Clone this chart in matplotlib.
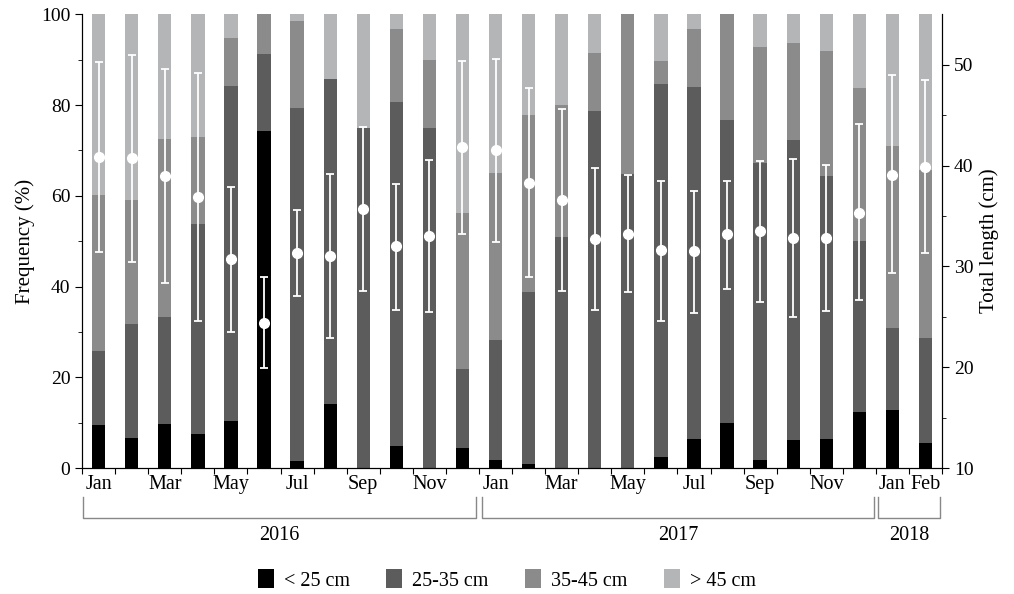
import numpy as np
import matplotlib.pyplot as plt
from matplotlib.patches import Patch
import matplotlib.transforms as mtransforms

plt.rcParams['font.family'] = ['Liberation Serif', 'DejaVu Serif']

months = ['Jan', 'Feb', 'Mar', 'Apr', 'May', 'Jun', 'Jul', 'Aug', 'Sep', 'Oct', 'Nov', 'Dec',
          'Jan', 'Feb', 'Mar', 'Apr', 'May', 'Jun', 'Jul', 'Aug', 'Sep', 'Oct', 'Nov', 'Dec',
          'Jan', 'Feb']
shown = ['Jan', 'Mar', 'May', 'Jul', 'Sep', 'Nov', 'Jan', 'Mar', 'May', 'Jul', 'Sep', 'Nov', 'Jan', 'Feb']
shown_idx = [0, 2, 4, 6, 8, 10, 12, 14, 16, 18, 20, 22, 24, 25]

# cumulative tops (%) of each size class
top_lt25 = [9.5, 6.7, 9.7, 7.6, 10.4, 74.2, 1.5, 14.2, 0, 4.8, 0, 4.5,
            1.8, 1.0, 0, 0, 0, 2.5, 6.4, 9.9, 1.7, 6.2, 6.4, 12.4, 12.8, 5.5]
top_25_35 = [25.9, 31.8, 33.2, 53.8, 84.2, 91.3, 79.4, 85.7, 75.0, 80.6, 75.0, 21.8,
             28.2, 38.7, 50.9, 78.6, 64.7, 84.6, 83.9, 76.7, 67.3, 72.3, 64.4, 50.0, 30.9, 28.6]
top_35_45 = [60.2, 59.1, 72.5, 73.0, 94.7, 100, 98.5, 85.7, 75.0, 96.8, 89.9, 56.2,
             65.1, 77.7, 80.1, 91.5, 100, 89.7, 96.8, 100, 92.7, 93.6, 91.9, 83.7, 70.9, 65.7]

# mean total length (cm) and error bar limits
mean_len = [40.8, 40.7, 39.0, 36.9, 30.7, 24.4, 31.3, 31.0, 35.7, 32.0, 33.0, 41.8,
            41.5, 38.3, 36.6, 32.7, 33.2, 31.6, 31.5, 33.2, 33.5, 32.8, 32.8, 35.3, 39.1, 39.9]
err_hi = [50.3, 51.0, 49.6, 49.2, 37.9, 28.9, 35.6, 39.2, 43.8, 38.2, 40.5, 50.4,
          50.6, 47.7, 45.6, 39.8, 39.1, 38.5, 37.5, 38.5, 40.4, 40.6, 40.1, 44.1, 49.0, 48.5]
err_lo = [31.4, 30.4, 28.4, 24.6, 23.5, 19.9, 27.1, 22.9, 27.6, 25.7, 25.5, 33.2,
          32.4, 28.9, 27.6, 25.7, 27.5, 24.6, 25.4, 27.8, 26.5, 25.0, 25.6, 26.7, 29.3, 31.3]

years = ['2016', '2017', '2018']
classes = ['< 25 cm', '25-35 cm', '35-45 cm', '> 45 cm']
colors = ['#000000', '#5c5c5c', '#8b8b8b', '#b3b5b7']

x = np.arange(len(months))
lt25 = np.array(top_lt25)
c2535 = np.array(top_25_35) - lt25
c3545 = np.array(top_35_45) - np.array(top_25_35)
gt45 = 100 - np.array(top_35_45)

fig = plt.figure(figsize=(10.14, 5.94), dpi=100)
ax = fig.add_axes([0.081, 0.212, 0.848, 0.764])

w = 0.4
ax.bar(x, lt25, w, color=colors[0])
ax.bar(x, c2535, w, bottom=lt25, color=colors[1])
ax.bar(x, c3545, w, bottom=lt25 + c2535, color=colors[2])
ax.bar(x, gt45, w, bottom=lt25 + c2535 + c3545, color=colors[3])

ax.set_xlim(-0.5, 25.5)
ax.set_ylim(0, 100)
ax.set_yticks([0, 20, 40, 60, 80, 100])
ax.set_yticks(np.arange(10, 100, 20), minor=True)
ax.set_xticks(np.arange(-0.5, 26, 1))
ax.set_xticklabels([])
ax.set_xticks(shown_idx, minor=True)
ax.set_xticklabels(shown, minor=True)
ax.tick_params(axis='x', which='major', length=4, direction='out')
ax.tick_params(axis='x', which='minor', length=0, pad=5, labelsize=14.5)
ax.tick_params(axis='y', which='major', length=5, labelsize=14)
ax.tick_params(axis='y', which='minor', length=3)
ax.spines['top'].set_visible(False)
ax.set_ylabel('Frequency (%)', fontsize=15)

ax2 = ax.twinx()
ax2.set_ylim(10, 55)
ax2.set_yticks([10, 20, 30, 40, 50])
ax2.set_yticks(np.arange(15, 55, 10), minor=True)
ax2.tick_params(axis='y', which='major', length=5, labelsize=14)
ax2.tick_params(axis='y', which='minor', length=3)
ax2.spines['top'].set_visible(False)
ax2.set_ylabel('Total length (cm)', fontsize=15)
m = np.array(mean_len)
yerr = [m - np.array(err_lo), np.array(err_hi) - m]
ax2.errorbar(x, m, yerr=yerr, fmt='o', color='white', ms=7, elinewidth=1.3,
             capsize=3, capthick=1.3)

# year brackets under the month labels
trans = mtransforms.blended_transform_factory(ax.transData, ax.transAxes)
spans = [(-0.48, 11.42), (11.58, 23.45), (23.55, 25.45)]
for (a, b), yr in zip(spans, years):
    ax.plot([a, a, b, b], [-0.064, -0.110, -0.110, -0.064], color='#888888', lw=1,
            transform=trans, clip_on=False)
    ax.text((a + b) / 2, -0.148, yr, transform=trans, ha='center', va='center', fontsize=14.5)

handles = [Patch(facecolor=c, label=l) for c, l in zip(colors, classes)]
fig.legend(handles=handles, loc='center', bbox_to_anchor=(0.5, 0.024), ncol=4, frameon=False,
           fontsize=14.5, handlelength=0.8, handleheight=1.1, columnspacing=1.8, handletextpad=0.5)

fig.savefig('out.png', dpi=100)
